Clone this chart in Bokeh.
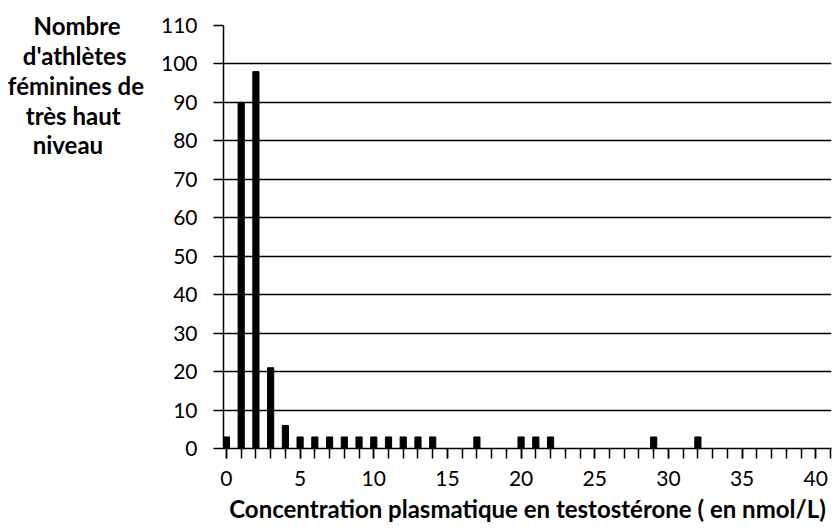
from bokeh.plotting import figure
from bokeh.models import Range1d, SingleIntervalTicker
from bokeh.embed import file_html
from bokeh.resources import INLINE

# ---- data ----
concentration = [0, 1, 2, 3, 4, 5, 6, 7, 8, 9, 10, 11, 12, 13, 14, 17, 20, 21, 22, 29, 32]
athletes = [3, 90, 98, 21, 6, 3, 3, 3, 3, 3, 3, 3, 3, 3, 3, 3, 3, 3, 3, 3, 3]
x_tick_step = 5
y_tick_step = 10
y_max = 110
x_max = 41
y_title_lines = ["Nombre", "d'athlètes", "féminines de", "très haut", "niveau"]
x_title = "Concentration plasmatique en testostérone ( en nmol/L)"

FONT = "Lato"
W, H = 834, 531
NBSP = "\u00a0"

p = figure(
    width=W, height=H,
    output_backend="svg", toolbar_location=None,
    x_range=Range1d(-0.2, x_max + 0.07), y_range=Range1d(0, y_max),
    min_border_left=223, min_border_top=25, min_border_right=3, min_border_bottom=83,
)
p.outline_line_color = None
p.background_fill_color = "white"

p.vbar(x=concentration, top=athletes, width=0.42, bottom=0,
       fill_color="black", line_color="black")

# grid
p.xgrid.grid_line_color = None
p.ygrid.ticker = SingleIntervalTicker(interval=y_tick_step, num_minor_ticks=0)
p.ygrid.grid_line_color = "black"
p.ygrid.grid_line_width = 1.5

# y axis
ya = p.yaxis[0]
ya.ticker = SingleIntervalTicker(interval=y_tick_step, num_minor_ticks=0)
ya.axis_line_color = "black"
ya.axis_line_width = 1.5
ya.major_tick_line_color = "black"
ya.major_tick_line_width = 1.5
ya.major_tick_in = 0
ya.major_tick_out = 10
ya.minor_tick_line_color = None
ya.major_label_text_font = FONT
ya.major_label_text_font_size = "21px"
ya.major_label_text_color = "black"
ya.major_label_standoff = 16

# y axis title: horizontal, stacked lines, near the top of the axis.
# The label block is centred on the top of the axis, so four blank lines
# are put in front of it; trailing non-breaking spaces centre the lines.
pad = [4, 3, 0, 4, 7]
title_lines = [NBSP] * 4 + [t + NBSP * n for t, n in zip(y_title_lines, pad)]
ya.axis_label = "\n".join(title_lines)
ya.axis_label_text_font = FONT
ya.axis_label_text_font_style = "bold"
ya.axis_label_text_font_size = "24px"
ya.axis_label_text_color = "black"
ya.axis_label_text_line_height = 1.03
ya.axis_label_text_align = "center"
ya.axis_label_standoff = 14
props = ya.properties()
if "axis_label_orientation" in props:
    ya.axis_label_orientation = "horizontal"
if "axis_label_align" in props:
    ya.axis_label_align = "end"

# x axis
xa = p.xaxis[0]
xa.ticker = SingleIntervalTicker(interval=x_tick_step, num_minor_ticks=5)
xa.axis_line_color = "black"
xa.axis_line_width = 1.5
xa.major_tick_line_color = "black"
xa.major_tick_line_width = 1.5
xa.minor_tick_line_color = "black"
xa.minor_tick_line_width = 1.5
xa.major_tick_in = 0
xa.major_tick_out = 10
xa.minor_tick_in = 0
xa.minor_tick_out = 10
xa.major_label_text_font = FONT
xa.major_label_text_font_size = "21px"
xa.major_label_text_color = "black"
xa.major_label_standoff = 12
xa.axis_label = x_title
xa.axis_label_text_font = FONT
xa.axis_label_text_font_style = "bold"
xa.axis_label_text_font_size = "24px"
xa.axis_label_text_color = "black"
xa.axis_label_standoff = 5

open("out.html", "w").write(file_html(p, INLINE))
